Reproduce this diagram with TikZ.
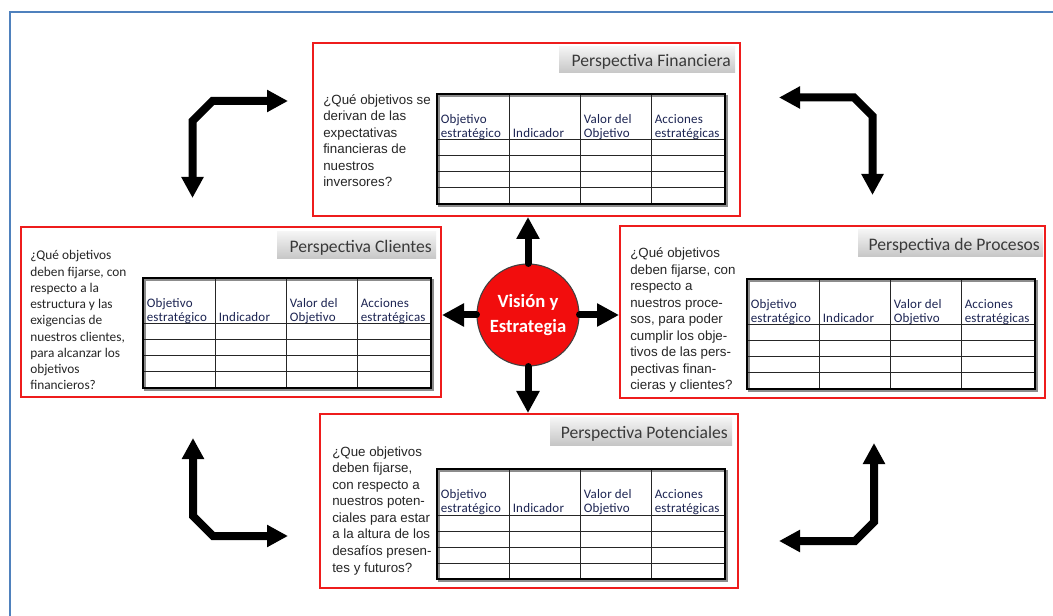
\documentclass[tikz,border=0pt]{standalone}
\usepackage{fontspec}
\setmainfont{Liberation Sans}
\newfontfamily\calf{Carlito}
\newfontfamily\calhdr[LetterSpace=1.5]{Carlito}
\usetikzlibrary{arrows.meta,fit}

\definecolor{boxred}{HTML}{EE1C1C}
\definecolor{frameblue}{HTML}{4F81BD}
\definecolor{hdrink}{HTML}{1C2452}
\definecolor{txtink}{HTML}{262626}
\definecolor{tabink}{HTML}{3A3A3A}
\definecolor{tabtop}{HTML}{F4F4F4}
\definecolor{tabbot}{HTML}{C6C6C6}
\definecolor{hubred}{HTML}{F20D0D}

% Balanced-scorecard table: header row plus four empty rows
% (multi-line nodes are placed by the baseline of their last line)
\tikzset{
  pics/kpitable/.style={code={
    \draw[tblshadow] (2,2) rectangle (290,112);
    \foreach \c in {72,143,214} {\draw[gridrule] (\c,0) -- (\c,110);}
    \foreach \r in {46,62,78,94} {\draw[gridrule] (0,\r) -- (288,\r);}
    \draw[tblframe] (0,0) rectangle (288,110);
    \node[hdr] (-c1) at (3.5,43.5) {Objetivo\\estratégico};
    \node[hdr] (-c2) at (75.5,43.5) {Indicador};
    \node[hdr] (-c3) at (146.5,43.5) {Valor del\\Objetivo};
    \node[hdr] (-c4) at (217.5,43.5) {Acciones\\estratégicas};
  }}
}

\begin{document}
\begin{tikzpicture}[x=0.75pt,y=-0.75pt,
  persbox/.style={draw=boxred,line width=1.5pt,inner sep=0pt},
  tabbar/.style={inner sep=0pt,top color=tabtop,bottom color=tabbot},
  tabtitle/.style={anchor=base east,inner sep=0pt,text=tabink,font=\calf\fontsize{13.2}{15}\selectfont},
  question/.style={anchor=base west,inner sep=0pt,align=left,text=txtink,font=\fontsize{10}{12.4}\selectfont},
  questioncal/.style={question,font=\calf\fontsize{10}{12.2}\selectfont},
  hdr/.style={anchor=base west,inner sep=0pt,align=left,text=hdrink,font=\calhdr\fontsize{9.75}{10.8}\selectfont},
  gridrule/.style={line width=0.75pt,black!85},
  tblframe/.style={line width=1.6pt,black},
  tblshadow/.style={line width=1.2pt,black!45},
  hub/.style={circle,draw=black!75,line width=0.8pt,fill=hubred,minimum size=76.5pt,inner sep=0pt,align=center,text=white,font=\calf\bfseries\fontsize{14}{18.5}\selectfont},
  spoke/.style={line width=5.25pt,line cap=round,-{Triangle[width=16.5pt,length=16.5pt]}},
  cornerarrow/.style={line width=6pt,line join=miter,{Triangle[width=15.75pt,length=15.75pt]}-{Triangle[width=15.75pt,length=15.75pt]}},
]
\useasboundingbox (0,0) rectangle (1053,616);
\fill[white] (0,0) rectangle (1053,616);

% outer frame (left and top edges)
\draw[frameblue,line width=1.9pt] (10,616) -- (10,12) -- (1053,12);

% the four perspectives
\node[persbox,fit={(313,43) (740,216)}] (fin) {};
\node[persbox,fit={(21,227) (441,397)}] (cli) {};
\node[persbox,fit={(620,226) (1045,398)}] (pro) {};
\node[persbox,fit={(320,414) (738,588)}] (pot) {};

% title tabs
\node[tabbar,fit={(559,47) (735,73)}] (fin-tab) {};
\node[tabtitle] (fin-title) at (731,67) {Perspectiva Financiera};
\node[tabbar,fit={(277,232) (436,259)}] (cli-tab) {};
\node[tabtitle] (cli-title) at (432,252.5) {Perspectiva Clientes};
\node[tabbar,fit={(858,230) (1043,257)}] (pro-tab) {};
\node[tabtitle] (pro-title) at (1040,250.5) {Perspectiva de Procesos};
\node[tabbar,fit={(550,418) (732,445)}] (pot-tab) {};
\node[tabtitle] (pot-title) at (728,438.5) {Perspectiva Potenciales};

% guiding questions
\node[question] (fin-q) at (323,187) {¿Qué objetivos se\\derivan de las\\expectativas\\financieras de\\nuestros\\inversores?};
\node[questioncal] (cli-q) at (30,390) {¿Qué objetivos\\deben fijarse, con\\respecto a la\\estructura y las\\exigencias de\\nuestros clientes,\\para alcanzar los\\objetivos\\financieros?};
\node[question] (pro-q) at (630,390) {¿Qué objetivos\\deben fijarse, con\\respecto a\\nuestros proce-\\sos, para poder\\cumplir los obje-\\tivos de las pers-\\pectivas finan-\\cieras y clientes?};
\node[question] (pot-q) at (332,572) {¿Que objetivos\\deben fijarse,\\con respecto a\\nuestros poten-\\ciales para estar\\a la altura de los\\desafíos presen-\\tes y futuros?};

% tables
\pic (fin-tbl) at (437,94) {kpitable};
\pic (cli-tbl) at (143,278) {kpitable};
\pic (pro-tbl) at (747,279) {kpitable};
\pic (pot-tbl) at (437,469) {kpitable};

% hub and spokes
\node[hub] (vis) at (528,315) {Visión y\\Estrategia};
\draw[spoke] (vis.north) -- (vis.north |- fin.south);
\draw[spoke] (vis.south) -- (vis.south |- pot.north);
\draw[spoke] (vis.west) -- (vis.west -| cli.east);
\draw[spoke] (vis.east) -- (vis.east -| pro.west);

% corner arrows linking neighbouring perspectives
\coordinate (tl-a) at (192.5,198); \coordinate (tl-b) at (288,101);
\coordinate (tr-a) at (779,97.5);  \coordinate (tr-b) at (872.5,195);
\coordinate (bl-a) at (193,438);   \coordinate (bl-b) at (288,536);
\coordinate (br-a) at (874,443);   \coordinate (br-b) at (779,541);
\draw[cornerarrow] (tl-a) -- (192.5,121) -- (212.5,101) -- (tl-b);
\draw[cornerarrow] (tr-a) -- (854,97.5) -- (872.5,116) -- (tr-b);
\draw[cornerarrow] (bl-a) -- (193,516) -- (213,536) -- (bl-b);
\draw[cornerarrow] (br-a) -- (874,522) -- (855,541) -- (br-b);
\end{tikzpicture}
\end{document}
